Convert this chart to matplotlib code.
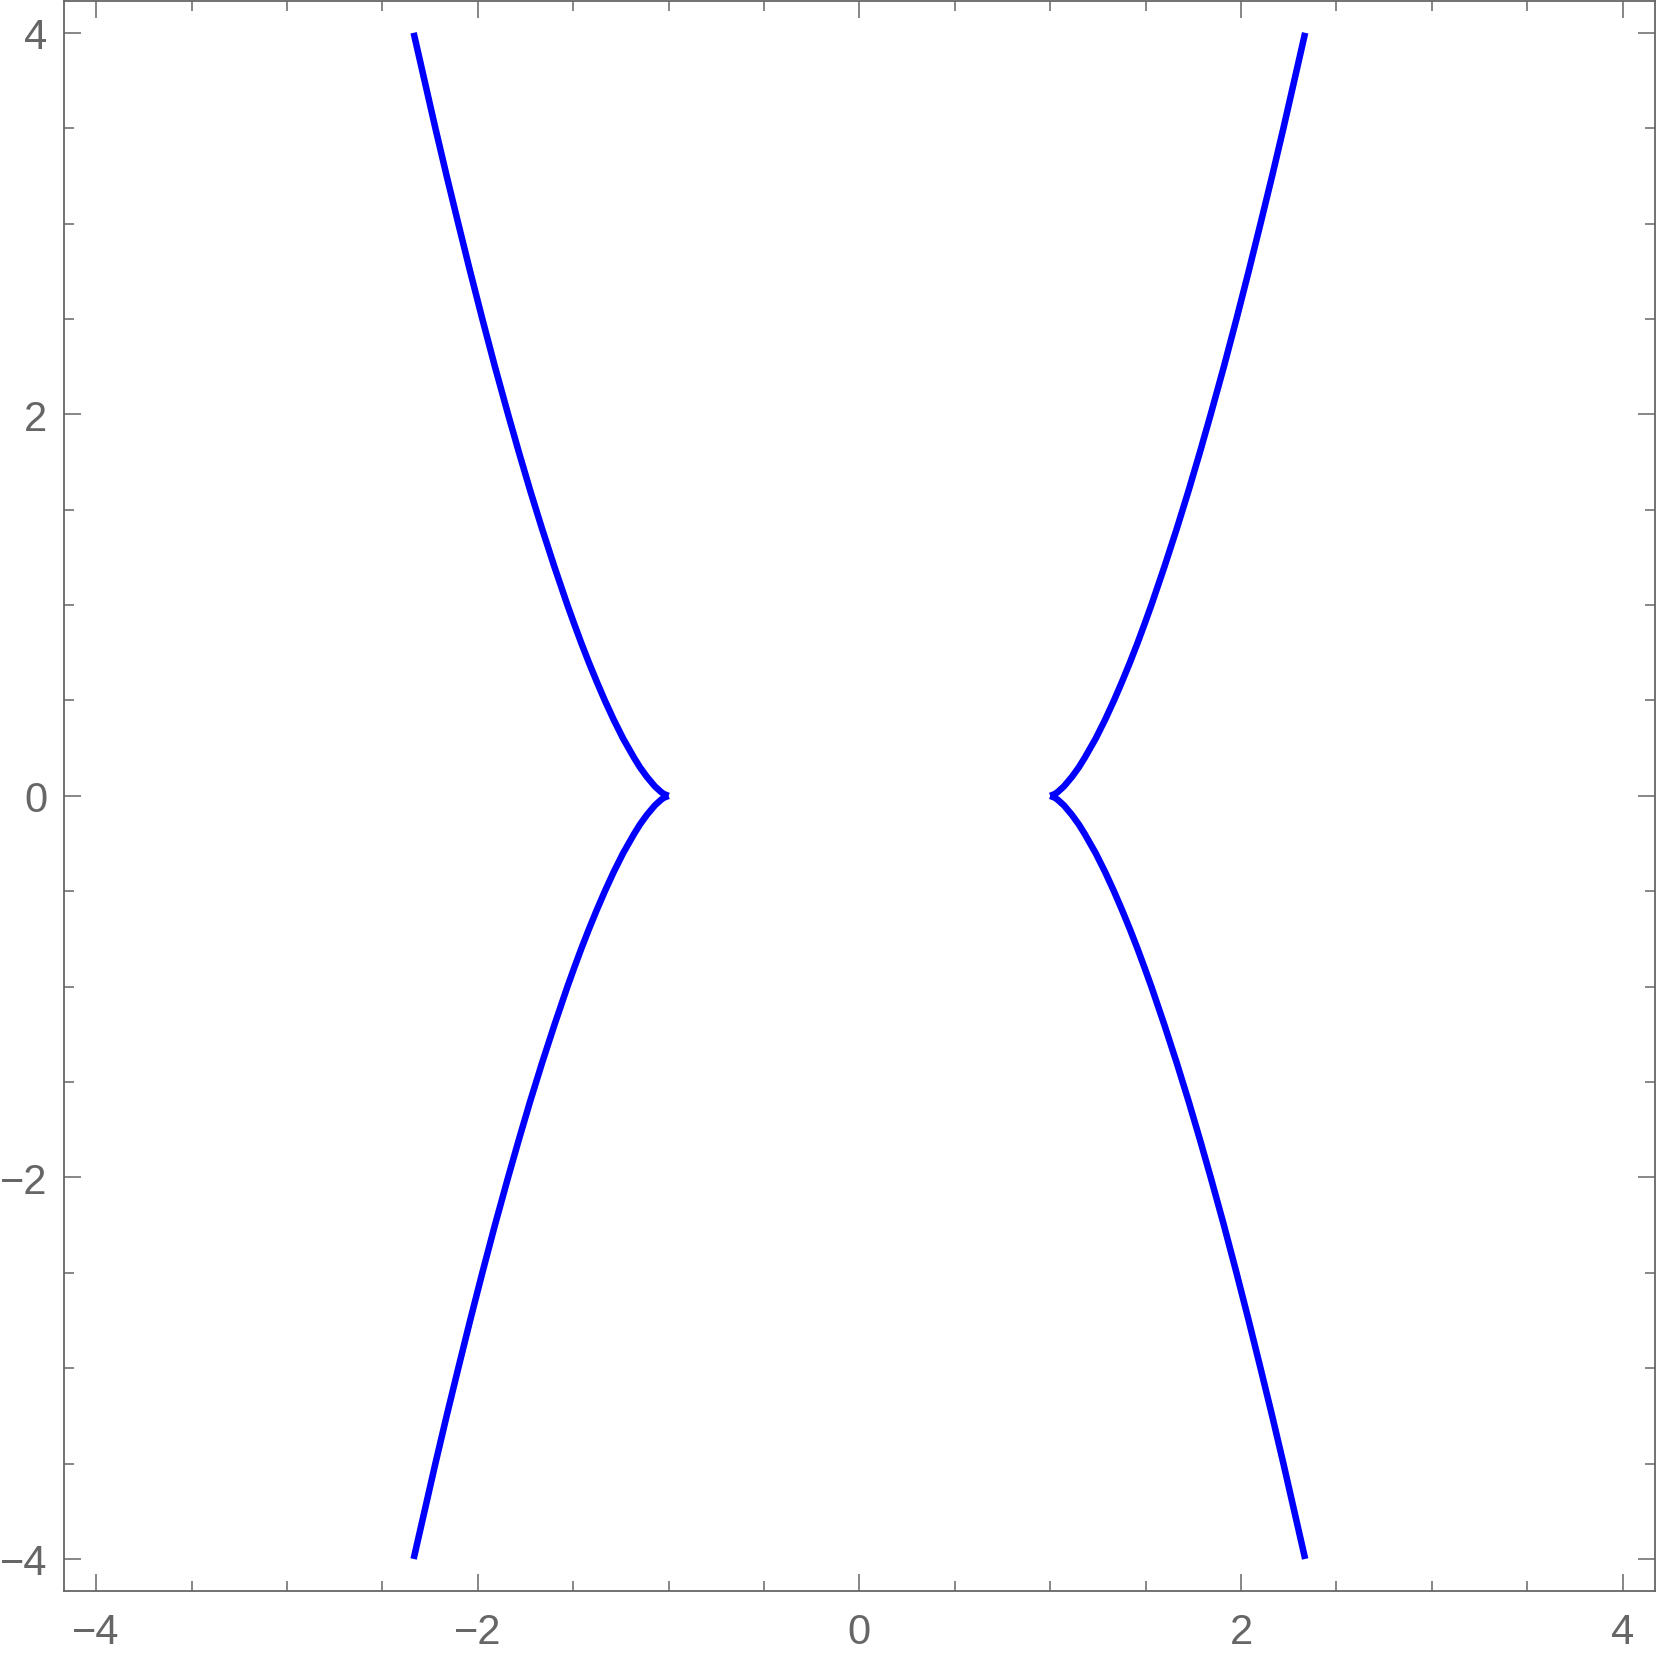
import numpy as np
import matplotlib.pyplot as plt
from matplotlib.ticker import MultipleLocator

# upper-right branch of the curve (|y|, |x|)
branch_y = [0.00, 0.01, 0.02, 0.05, 0.10, 0.15, 0.20, 0.30, 0.40, 0.50,
            0.60, 0.70, 0.80, 0.90, 1.00, 1.20, 1.40, 1.60, 1.80, 2.00,
            2.25, 2.50, 2.75, 3.00, 3.25, 3.50, 3.75, 4.00]
branch_x = [1.000, 1.025, 1.039, 1.072, 1.114, 1.150, 1.181, 1.238, 1.288, 1.334,
            1.377, 1.418, 1.457, 1.494, 1.530, 1.598, 1.663, 1.725, 1.784, 1.841,
            1.910, 1.976, 2.040, 2.102, 2.163, 2.222, 2.279, 2.336]

major_ticks = [-4, -2, 0, 2, 4]
lim = 4.1667

frame_gray = '#666666'
curve_blue = '#0000ff'

plt.rcParams['font.family'] = ['Liberation Sans', 'DejaVu Sans']

fig = plt.figure(figsize=(16.61, 16.65), dpi=100)
ax = fig.add_axes([0.0387, 0.044, 0.9574, 0.9548])

bx = np.array(branch_x)
by = np.array(branch_y)
# four symmetric branches
for sx in (1, -1):
    for sy in (1, -1):
        ax.plot(sx * bx, sy * by, color=curve_blue, lw=4.7,
                solid_capstyle='butt', solid_joinstyle='round')

ax.set_xlim(-lim, lim)
ax.set_ylim(-lim, lim)
ax.set_xticks(major_ticks)
ax.set_yticks(major_ticks)
ax.xaxis.set_minor_locator(MultipleLocator(0.5))
ax.yaxis.set_minor_locator(MultipleLocator(0.5))

ax.tick_params(which='both', direction='in', top=True, right=True,
               color=frame_gray, width=1.1)
ax.tick_params(which='major', length=12.2)
ax.tick_params(which='minor', length=7.2)
ax.tick_params(axis='x', which='major', pad=15, labelsize=30, labelcolor=frame_gray)
ax.tick_params(axis='y', which='major', pad=12, labelsize=30, labelcolor=frame_gray)

for spine in ax.spines.values():
    spine.set_color(frame_gray)
    spine.set_linewidth(1.3)

fig.savefig('out.png', dpi=100)
plt.close(fig)
